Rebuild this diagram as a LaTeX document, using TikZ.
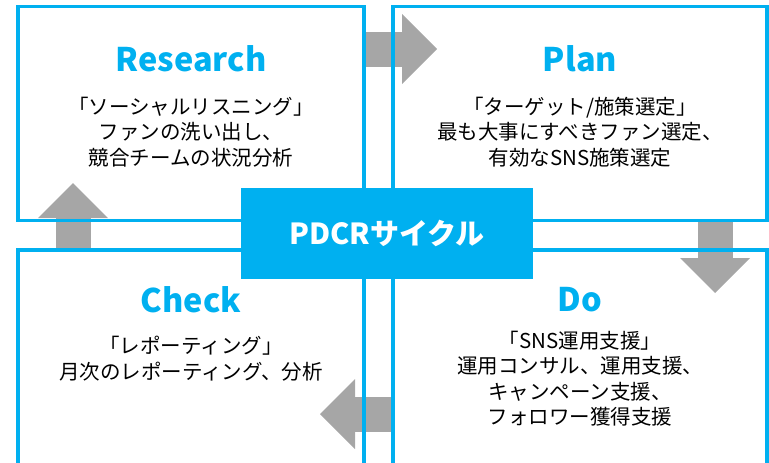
\documentclass[tikz,border=0pt]{standalone}
\usepackage{fontspec}
\setmainfont{Noto Sans CJK JP}
\usetikzlibrary{arrows.meta,backgrounds}
\definecolor{pdcrblue}{HTML}{00B0F0}
\definecolor{arrowgray}{HTML}{A6A6A6}
\tikzset{
  box/.style={draw=pdcrblue, line width=3.5pt, minimum width=346pt, minimum height=214pt, inner sep=0pt},
  title/.style={text=pdcrblue, font=\fontsize{32.5}{38}\selectfont\bfseries},
  body/.style={align=center, font=\fontsize{20.5}{25.5}\selectfont},
  flow/.style={arrowgray, line width=35pt, -{Triangle[width=70pt,length=35pt,line width=0pt]}}
}
\begin{document}
\begin{tikzpicture}[x=1pt,y=-1pt]
\useasboundingbox (0,0) rectangle (769,463);
\node[box] (research) at (191,113.5) {};
\node[box, minimum width=374pt] (plan) at (580,113.5) {};
\node[box, minimum height=225pt] (check) at (191,362.5) {};
\node[box, minimum width=374pt, minimum height=225pt] (do) at (580,362.5) {};
\node[title] (researchT) at (191,59) {Research};
\node[body] (researchB) at (191,132) {「ソーシャルリスニング」\\ファンの洗い出し、\\競合チームの状況分析};
\node[title] (planT) at (580,59) {Plan};
\node[body] (planB) at (580,132) {「ターゲット/施策選定」\\最も大事にすべきファン選定、\\有効なSNS施策選定};
\node[title] (checkT) at (191,300) {Check};
\node[body] (checkB) at (191,358.5) {「レポーティング」\\月次のレポーティング、分析};
\node[title] (doT) at (580,300) {Do};
\node[body] (doB) at (580,378.5) {「SNS運用支援」\\運用コンサル、運用支援、\\キャンペーン支援、\\フォロワー獲得支援};
\begin{scope}[on background layer]
\coordinate (planIn) at (437,49);
\coordinate (doIn) at (715,293);
\coordinate (checkIn) at (320,414);
\coordinate (researchIn) at (73,183);
\draw[flow] (research.east |- planIn) -- (planIn);
\draw[flow] (plan.south -| doIn) -- (doIn);
\draw[flow] (do.west |- checkIn) -- (checkIn);
\draw[flow] (check.north -| researchIn) -- (researchIn);
\end{scope}
\node[fill=pdcrblue, minimum width=292pt, minimum height=91pt, text=white, font=\fontsize{29}{34}\selectfont\bfseries] (pdcr) at (387,233.5) {PDCRサイクル};
\end{tikzpicture}
\end{document}
